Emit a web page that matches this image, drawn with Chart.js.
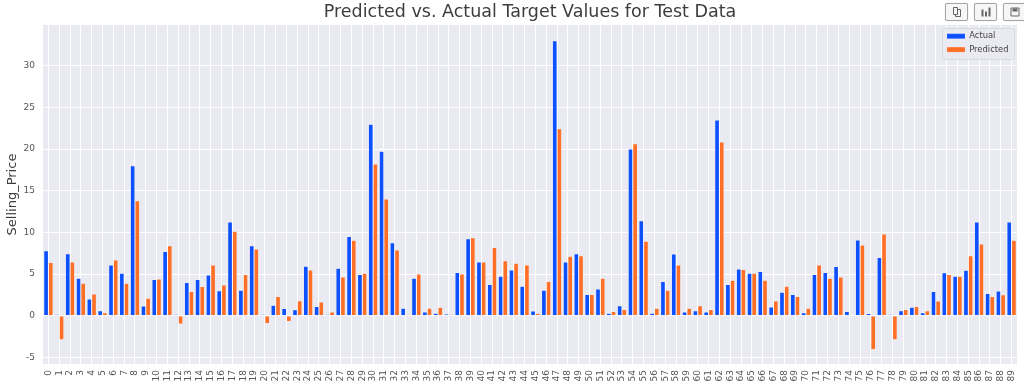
<!DOCTYPE html>
<html><head><meta charset="utf-8">
<script src="https://cdn.jsdelivr.net/npm/chart.js@4"></script>
<style>
html,body{margin:0;padding:0;background:#fff;overflow:hidden}
#w{position:relative;width:1024px;height:387px}
canvas{display:block;filter:blur(.45px)}
.b{position:absolute;top:3px;height:16px;border:1px solid #a5a5a5;border-radius:2px;background:#f6f6f6;box-shadow:0 0 1px #bbb;box-sizing:content-box;filter:blur(.4px)}
.b svg{position:absolute;left:50%;top:50%;transform:translate(-50%,-50%)}
</style></head><body>
<div id="w"><canvas id="c" width="1024" height="387"></canvas>
<div class="b" style="left:945px;width:21px"><svg width="11" height="11" viewBox="0 0 11 11"><path d="M2 1h4v7H2z M6 3h3v7H4V8" fill="none" stroke="#666" stroke-width="1"/></svg></div>
<div class="b" style="left:974px;width:21px"><svg width="11" height="11" viewBox="0 0 11 11"><path d="M1 3h2v7H1zM4.5 5h2v5h-2zM8 1h2v9H8z" fill="#666"/></svg></div>
<div class="b" style="left:1003px;width:21px"><svg width="11" height="11" viewBox="0 0 11 11"><path d="M1.5 1.5h8v8h-8z" fill="none" stroke="#666"/><path d="M3 2h5v3H3z" fill="#666"/></svg></div>
</div>
<script>
const categories=Array.from({length:90},(_,i)=>String(i));
const actual=[7.8,0.15,7.45,4.5,2.0,0.6,6.1,5.1,18,1.15,4.35,7.7,0.15,4.0,4.35,4.9,3.0,11.25,3.05,8.4,0.15,1.25,0.85,0.7,5.95,1.1,0.15,5.7,9.5,4.95,23,19.75,8.75,0.9,4.5,0.45,0.3,0.2,5.2,9.25,6.45,3.75,4.75,5.5,3.55,0.55,3.05,33,6.45,7.45,2.55,3.2,0.3,1.2,20,11.4,0.3,4.1,7.4,0.45,0.6,0.45,23.5,3.75,5.6,5.1,5.3,1.05,2.8,2.55,0.35,4.95,5.2,5.9,0.5,9.1,0.25,7.0,0.15,0.6,1.0,0.35,2.9,5.15,4.75,5.45,11.25,2.65,2.95,11.25];
const predicted=[6.4,-2.9,6.45,3.9,2.6,0.35,6.7,3.9,13.8,2.1,4.4,8.4,-1.0,2.9,3.5,6.1,3.7,10.15,4.95,8.0,-0.95,2.3,-0.7,1.8,5.5,1.65,0.45,4.65,9.05,5.1,18.2,14,7.9,0.15,5.0,0.9,1.0,0.15,5.0,9.35,6.45,8.2,6.6,6.3,6.1,0.3,4.1,22.45,7.15,7.2,2.55,4.5,0.5,0.75,20.65,8.95,0.9,3.05,6.1,0.9,1.2,0.75,20.85,4.25,5.55,5.1,4.25,1.75,3.55,2.3,0.9,6.1,4.5,4.65,0.0,8.5,-4.05,9.8,-2.9,0.75,1.1,0.6,1.75,4.95,4.75,7.2,8.6,2.3,2.5,9.05];
const yTicks=[-5,0,5,10,15,20,25,30];
const F='"DejaVu Sans"';
const deco={id:'deco',
 afterLayout(ch){
  const l=ch.legend;
  l.left=942;l.top=27;
  if(!l._wrapped){l._wrapped=true;const d=l.draw.bind(l);
   l.draw=function(){const c=ch.ctx;c.save();c.fillStyle='#eaeaf2';c.strokeStyle='#d8d8e0';c.lineWidth=1;
    c.beginPath();c.roundRect(942.5,28.5,72,31,2);c.fill();c.stroke();c.restore();d();};}
  const t=ch.titleBlock,a=ch.chartArea;t.left=a.left;t.right=a.right;
 },
 beforeDraw(ch){const a=ch.chartArea,c=ch.ctx;c.save();c.fillStyle='#eaeaf2';c.fillRect(a.left,a.top,a.right-a.left,a.bottom-a.top);c.restore();}
};
new Chart(document.getElementById('c'),{type:'bar',
 data:{labels:categories,datasets:[
  {label:'Actual',data:actual,backgroundColor:'#0d50ff',borderColor:'rgba(255,255,255,.25)',borderWidth:.5},
  {label:'Predicted',data:predicted,backgroundColor:'#ff6f26',borderColor:'rgba(255,255,255,.25)',borderWidth:.5}]},
 plugins:[deco],
 options:{responsive:false,animation:false,
  layout:{padding:{left:0,right:7,top:0,bottom:0}},
  datasets:{bar:{categoryPercentage:.86,barPercentage:1}},
  plugins:{
   tooltip:{enabled:false},
   title:{display:true,text:'Predicted vs. Actual Target Values for Test Data',color:'#3d3d3d',align:'center',font:{family:F,size:17.5,weight:'normal',lineHeight:1.43},padding:0},
   legend:{position:'chartArea',align:'start',labels:{boxWidth:18,boxHeight:5,padding:5,color:'#444',font:{family:F,size:8.4}}}
  },
  scales:{
   x:{afterFit(s){s.height=23;s.paddingLeft=0;s.paddingRight=0;},grid:{color:'#fff',lineWidth:1,offset:false,drawTicks:false},border:{display:false},
      ticks:{color:'#555',font:{family:F,size:9},maxRotation:90,minRotation:90,autoSkip:false,padding:6}},
   y:{min:-5.8,max:34.9,afterFit(s){s.width=43;},grid:{color:'#fff',lineWidth:1,drawTicks:false},border:{display:false},
      afterBuildTicks(s){s.ticks=yTicks.map(v=>({value:v}));},
      title:{display:true,text:'Selling_Price',color:'#3d3d3d',font:{family:F,size:13},padding:{top:5,bottom:0}},
      ticks:{color:'#555',font:{family:F,size:9},padding:8}}
  }}
});
</script></body></html>
